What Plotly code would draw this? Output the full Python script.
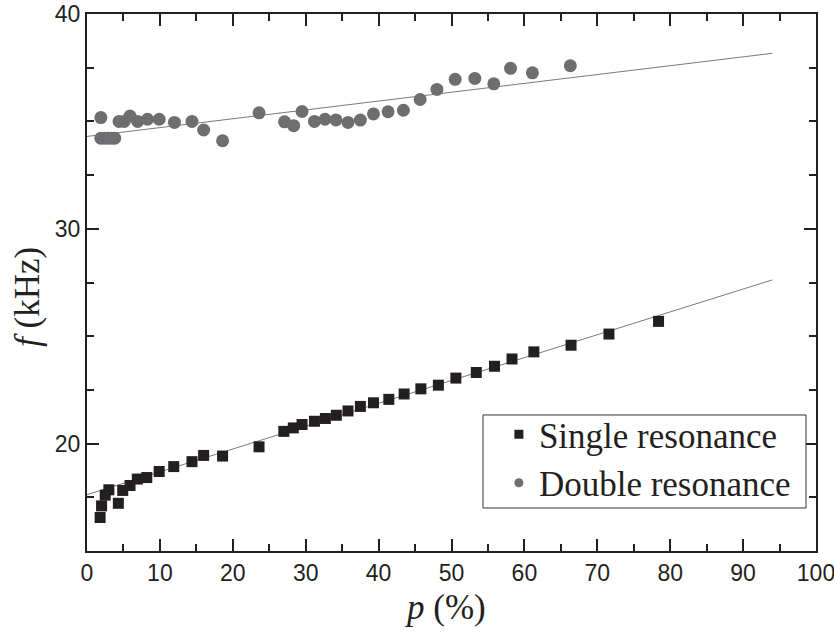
import plotly.graph_objects as go

# ---- data ----
single_p = [1.8, 2.0, 2.5, 3.0, 4.3, 4.9, 5.9, 6.9, 8.2, 9.9, 11.9, 14.4, 16.0, 18.6,
            23.6, 27.0, 28.3, 29.5, 31.2, 32.7, 34.2, 35.8, 37.5, 39.3, 41.4, 43.5,
            45.8, 48.2, 50.6, 53.4, 55.9, 58.3, 61.3, 66.4, 71.6, 78.4]
single_f = [16.56, 17.1, 17.6, 17.85, 17.22, 17.82, 18.05, 18.35, 18.42, 18.7, 18.93,
            19.16, 19.45, 19.42, 19.85, 20.57, 20.73, 20.89, 21.04, 21.17, 21.32, 21.52,
            21.73, 21.9, 22.06, 22.31, 22.55, 22.72, 23.05, 23.31, 23.6, 23.94, 24.27,
            24.58, 25.1, 25.69]

double_p = [1.9, 1.9, 2.4, 2.9, 3.4, 3.8, 4.4, 5.1, 5.9, 6.95, 8.3, 9.9, 12.0, 14.4,
            16.0, 18.6, 23.6, 27.1, 28.35, 29.5, 31.2, 32.65, 34.15, 35.8, 37.5, 39.3,
            41.3, 43.4, 45.7, 48.0, 50.5, 53.2, 55.8, 58.1, 61.1, 66.3]
double_f = [35.18, 34.22, 34.22, 34.22, 34.22, 34.22, 35.0, 35.0, 35.25, 35.0, 35.1,
            35.1, 34.95, 35.0, 34.6, 34.1, 35.4, 34.98, 34.8, 35.46, 35.0, 35.1, 35.07,
            34.95, 35.06, 35.35, 35.45, 35.52, 36.02, 36.49, 36.96, 37.0, 36.75, 37.47,
            37.26, 37.59]

fit_p = [0, 94]
single_fit = [17.62, 27.62]
double_fit = [34.3, 38.17]

x_ticks = [0, 10, 20, 30, 40, 50, 60, 70, 80, 90, 100]
y_ticks = [20, 30, 40]

x_title = "<i>p</i> (%)"
y_title = "<i>f</i> (kHz)"

SERIF = "Liberation Serif"
SANS = "Liberation Sans"
AX = "#231f20"

fig = go.Figure()

fig.add_trace(go.Scatter(x=fit_p, y=single_fit, mode="lines",
                         line=dict(color="#7a7a7a", width=1), showlegend=False, hoverinfo="skip"))
fig.add_trace(go.Scatter(x=fit_p, y=double_fit, mode="lines",
                         line=dict(color="#7a7a7a", width=1), showlegend=False, hoverinfo="skip"))

fig.add_trace(go.Scatter(x=single_p, y=single_f, mode="markers", showlegend=False,
                         marker=dict(symbol="square", size=11, color="#231f20")))
fig.add_trace(go.Scatter(x=double_p, y=double_f, mode="markers", showlegend=False,
                         marker=dict(symbol="circle", size=13, color="#6d6e70")))

# legend entries
fig.add_trace(go.Scatter(x=[None], y=[None], mode="markers", name="Single resonance",
                         marker=dict(symbol="square", size=9, color="#231f20")))
fig.add_trace(go.Scatter(x=[None], y=[None], mode="markers", name="Double resonance",
                         marker=dict(symbol="circle", size=9, color="#6d6e70")))

axis_common = dict(
    showline=True, linecolor=AX, linewidth=2, mirror="ticks",
    ticks="inside", ticklen=12, tickwidth=2, tickcolor=AX,
    showgrid=False, zeroline=False, automargin=False,
    tickfont=dict(family=SANS, size=23, color=AX),
)

fig.update_xaxes(
    range=[0, 100], tickvals=x_ticks, ticktext=[str(v) for v in x_ticks],
    ticklabeloverflow="allow",
    minor=dict(ticks="inside", ticklen=7, tickwidth=2, tickcolor=AX, dtick=5, tick0=0),
    **axis_common,
)
fig.update_yaxes(
    range=[15, 40], tickvals=y_ticks, ticktext=[str(v) for v in y_ticks],
    minor=dict(ticks="inside", ticklen=7, tickwidth=2, tickcolor=AX, dtick=2.5, tick0=0),
    **axis_common,
)

# axis titles
fig.add_annotation(text=x_title, xref="paper", yref="paper", x=0.491, y=-0.106,
                   xanchor="center", yanchor="middle", showarrow=False,
                   font=dict(family=SERIF, size=35, color=AX))
fig.add_annotation(text=y_title, xref="paper", yref="paper", x=0, y=0.473,
                   xshift=-59, xanchor="center", yanchor="middle", textangle=-90,
                   showarrow=False, font=dict(family=SERIF, size=35, color=AX))

# legend frame
fig.add_shape(type="rect", xref="paper", yref="paper",
              x0=0.5432, x1=0.9863, y0=0.0801, y1=0.2533,
              line=dict(color="#333333", width=1), fillcolor="white", layer="above")

fig.update_layout(
    width=834, height=635,
    margin=dict(l=87, r=18, t=14, b=84),
    paper_bgcolor="white", plot_bgcolor="white",
    legend=dict(
        x=0.565, y=0.0726, xanchor="left", yanchor="bottom",
        borderwidth=0, bgcolor="rgba(0,0,0,0)",
        font=dict(family=SERIF, size=35, color=AX),
        itemwidth=30, tracegroupgap=0,
    ),
)

fig.write_html("out.html")
